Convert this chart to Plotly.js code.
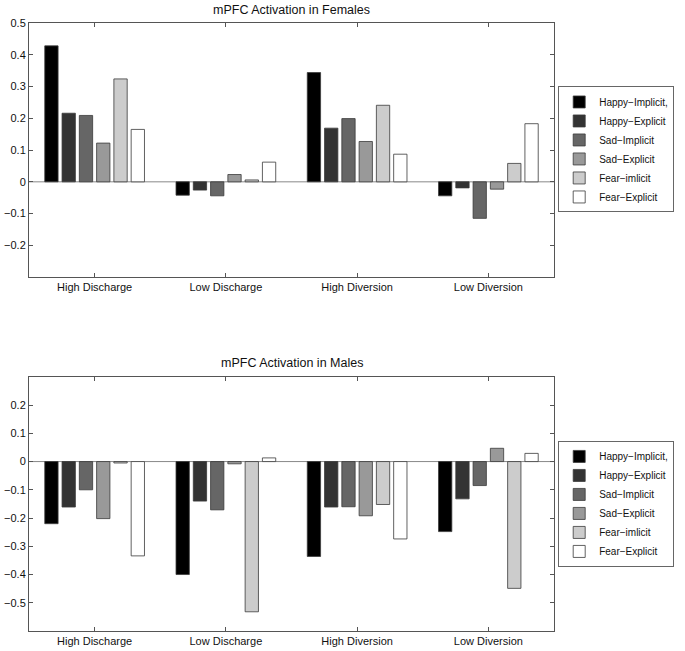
<!DOCTYPE html>
<html>
<head>
<meta charset="utf-8">
<script src="https://cdn.plot.ly/plotly-3.0.1.min.js"></script>
<style>
  html, body { margin: 0; padding: 0; background: #fff; }
  #chart { width: 685px; height: 651px; }
</style>
</head>
<body>
<div id="chart"></div>
<script>
// categories and conditions
var categories = ['High Discharge', 'Low Discharge', 'High Diversion', 'Low Diversion'];
var conditions = ['Happy\u2212Implicit,', 'Happy\u2212Explicit', 'Sad\u2212Implicit',
                  'Sad\u2212Explicit', 'Fear\u2212imlicit', 'Fear\u2212Explicit'];
var colors = ['#000000', '#333333', '#666666', '#999999', '#cccccc', '#ffffff'];

// values per condition, one entry per category
var femHappyImp = [0.428, -0.042, 0.344, -0.044];
var femHappyExp = [0.216, -0.026, 0.169, -0.019];
var femSadImp   = [0.209, -0.044, 0.199, -0.115];
var femSadExp   = [0.122, 0.023, 0.127, -0.023];
var femFearImp  = [0.324, 0.006, 0.241, 0.058];
var femFearExp  = [0.165, 0.062, 0.087, 0.183];

var maleHappyImp = [-0.220, -0.400, -0.336, -0.248];
var maleHappyExp = [-0.161, -0.140, -0.161, -0.132];
var maleSadImp   = [-0.100, -0.171, -0.160, -0.085];
var maleSadExp   = [-0.202, -0.008, -0.192, 0.047];
var maleFearImp  = [-0.005, -0.532, -0.152, -0.449];
var maleFearExp  = [-0.334, 0.013, -0.274, 0.029];

var femSeries = [femHappyImp, femHappyExp, femSadImp, femSadExp, femFearImp, femFearExp];
var maleSeries = [maleHappyImp, maleHappyExp, maleSadImp, maleSadExp, maleFearImp, maleFearExp];

function make_traces(series, xaxis, yaxis, legend) {
    var out = [];
    for (var i = 0; i < series.length; i++) {
        out.push({
            x: categories,
            y: series[i],
            type: 'bar',
            name: conditions[i],
            xaxis: xaxis,
            yaxis: yaxis,
            legend: legend,
            marker: {
                color: colors[i],
                line: { color: '#3a3a3a', width: 0.8 }
            },
            hoverinfo: 'x+y+name'
        });
    }
    return out;
}

var data = make_traces(femSeries, 'x', 'y', 'legend')
    .concat(make_traces(maleSeries, 'x2', 'y2', 'legend2'));

var axisStyle = {
    showline: true,
    linecolor: '#555',
    linewidth: 1,
    mirror: 'ticks',
    ticks: 'inside',
    ticklen: 4,
    tickcolor: '#555',
    showgrid: false,
    zeroline: false,
    tickfont: { size: 11, color: '#111' }
};

function ax(extra) {
    var o = {};
    for (var k in axisStyle) o[k] = axisStyle[k];
    for (var k2 in extra) o[k2] = extra[k2];
    return o;
}

var legendStyle = {
    xanchor: 'left',
    yanchor: 'middle',
    bgcolor: '#fff',
    bordercolor: '#666',
    borderwidth: 1,
    font: { size: 10, color: '#111' },
    tracegroupgap: 0,
    itemwidth: 30
};

function leg(y) {
    var o = {};
    for (var k in legendStyle) o[k] = legendStyle[k];
    o.x = 1.008;
    o.y = y;
    return o;
}

var layout = {
    width: 685,
    height: 651,
    paper_bgcolor: '#fff',
    plot_bgcolor: '#fff',
    font: { family: '"Liberation Sans", Arial, Helvetica, sans-serif', size: 11, color: '#111' },
    margin: { l: 29, r: 131, t: 23, b: 20, autoexpand: false },
    barmode: 'group',
    bargap: 0.21,
    bargroupgap: 0.23,
    showlegend: true,
    legend: leg(0.792),
    legend2: leg(0.209),
    xaxis: ax({ anchor: 'y', domain: [0, 1] }),
    yaxis: ax({
        anchor: 'x', domain: [0.582, 1], range: [-0.3, 0.5],
        tickvals: [-0.2, -0.1, 0, 0.1, 0.2, 0.3, 0.4, 0.5]
    }),
    xaxis2: ax({ anchor: 'y2', domain: [0, 1] }),
    yaxis2: ax({
        anchor: 'x2', domain: [0, 0.418], range: [-0.6, 0.3],
        tickvals: [-0.5, -0.4, -0.3, -0.2, -0.1, 0, 0.1, 0.2]
    }),
    shapes: [
        // zero baselines
        { type: 'line', xref: 'x domain', yref: 'y', x0: 0, x1: 1, y0: 0, y1: 0,
          line: { color: '#888', width: 1 }, layer: 'below' },
        { type: 'line', xref: 'x2 domain', yref: 'y2', x0: 0, x1: 1, y0: 0, y1: 0,
          line: { color: '#888', width: 1 }, layer: 'below' }
    ],
    annotations: [
        { text: 'mPFC Activation in Females', xref: 'paper', yref: 'paper',
          x: 0.5, y: 1.021, xanchor: 'center', yanchor: 'middle', showarrow: false,
          font: { size: 12.5, color: '#111' } },
        { text: 'mPFC Activation in Males', xref: 'paper', yref: 'paper',
          x: 0.5, y: 0.441, xanchor: 'center', yanchor: 'middle', showarrow: false,
          font: { size: 12.5, color: '#111' } }
    ]
};

Plotly.newPlot('chart', data, layout, { displayModeBar: false, staticPlot: true });
</script>
</body>
</html>
